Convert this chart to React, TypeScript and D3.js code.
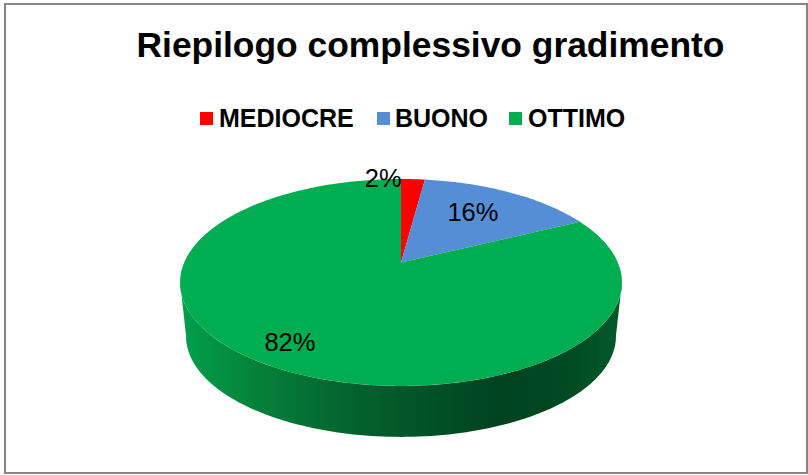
import React from 'react';
import * as d3 from 'd3';

const categories = ['MEDIOCRE', 'BUONO', 'OTTIMO'];
const shares = [0.021, 0.156, 0.823];
const sliceColors = ['#ff0000', '#558ed5', '#00ad50'];
const title = 'Riepilogo complessivo gradimento';

const width = 808;
const height = 475;

// Pie tilt: circle coordinates are projected so the apex sits above the ellipse centre
const apex = { x: 401, y: 262.5 };
const tilt = -0.193;
const scaleU = 216.8;
const scaleV = 99.6;
const depthScale = 215 / 221;
const depthY = 336.3 - 282.5;

const project = (angle: number, r = 1, wall = false): [number, number] => {
  const u = r * Math.sin(angle);
  const v = -r * Math.cos(angle);
  const w = 1 + tilt * v;
  const px = (scaleU * u) / w;
  const py = (scaleV * v) / w;
  if (!wall) return [apex.x + px, apex.y + py];
  // lower rim: slightly narrower, pushed down
  const midY = 20;
  return [apex.x + px * depthScale, apex.y + midY + depthY + (py - midY) * depthScale];
};

const line = d3.line();
const pie = d3.pie<number>().sort(null).value((d) => d);
const arcs = pie(shares);

const slicePath = (a0: number, a1: number) => {
  const n = Math.max(4, Math.ceil((a1 - a0) * 60));
  const pts = d3.range(n + 1).map((i) => project(a0 + ((a1 - a0) * i) / n));
  return line([[apex.x, apex.y], ...pts]) + 'Z';
};

// Side wall: lower half of the rim, from the right extreme round to the left one
const wallStart = Math.PI / 2 + 0.19;
const wallEnd = (3 * Math.PI) / 2 - 0.19;
const wallAngles = d3.range(121).map((i) => wallStart + ((wallEnd - wallStart) * i) / 120);
const wallPath =
  line([
    ...wallAngles.map((a) => project(a, 1, true)),
    ...[...wallAngles].reverse().map((a) => project(a)),
  ]) + 'Z';

const wallStops = [
  { at: 0, color: '#00a04c' },
  { at: 0.18, color: '#058039' },
  { at: 0.4, color: '#04612e' },
  { at: 0.72, color: '#00421f' },
  { at: 0.88, color: '#004a22' },
  { at: 1, color: '#005a2a' },
];

const legendSwatchX = [200, 377, 509];
const legendTextOffset = [19, 18, 19];
// label anchors as [angle in degrees, radius] on the pie
const labelAnchors = [
  [-5.5, 1.02],
  [33.3, 0.67],
  [212.8, 0.82],
];

export default function App() {
  return (
    <svg
      width={width}
      height={height}
      style={{ position: 'fixed', left: 0, top: 0, background: '#fff' }}
      fontFamily="'Liberation Sans', Arial, sans-serif"
    >
      <defs>
        <linearGradient id="wall" gradientUnits="userSpaceOnUse" x1={180} x2={622} y1={0} y2={0}>
          {wallStops.map((s) => (
            <stop key={s.at} offset={s.at} stopColor={s.color} />
          ))}
        </linearGradient>
      </defs>
      <rect x={5} y={4} width={802} height={469} fill="#fff" stroke="#868686" strokeWidth={2} />

      <text x={430.5} y={57} fontSize={35.4} fontWeight="bold" textAnchor="middle" fill="#000">
        {title}
      </text>

      {categories.map((c, i) => (
        <g key={c}>
          <rect x={legendSwatchX[i]} y={112} width={13} height={13} fill={sliceColors[i]} />
          <text
            x={legendSwatchX[i] + legendTextOffset[i]}
            y={127}
            fontSize={25}
            fontWeight="bold"
            fill="#000"
          >
            {c}
          </text>
        </g>
      ))}

      <path d={wallPath} fill="url(#wall)" />
      {arcs.map((a, i) => (
        <path key={i} d={slicePath(a.startAngle, a.endAngle)} fill={sliceColors[i]} />
      ))}
      {arcs.map((a, i) => {
        const [x, y] = project((labelAnchors[i][0] * Math.PI) / 180, labelAnchors[i][1]);
        return (
          <text key={i} x={x} y={y} dy="0.35em" fontSize={25.5} textAnchor="middle" fill="#000">
            {d3.format('.0%')(a.data)}
          </text>
        );
      })}
    </svg>
  );
}
